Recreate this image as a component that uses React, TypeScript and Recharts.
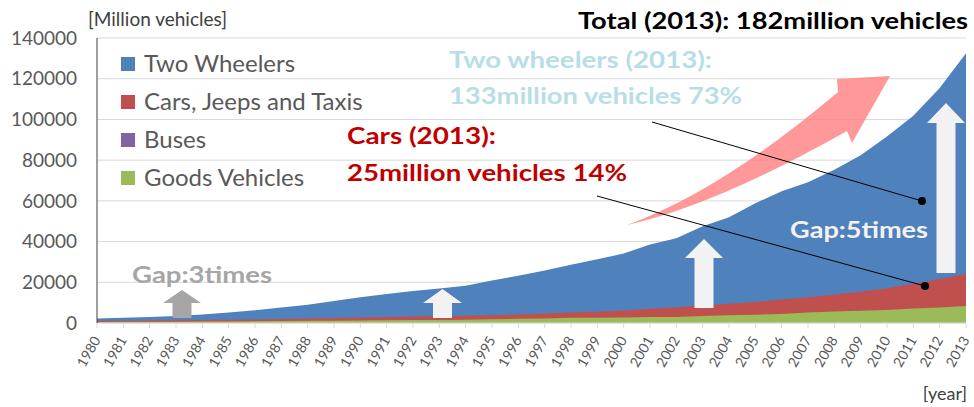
import { AreaChart, Area, XAxis, YAxis, CartesianGrid } from "recharts"

const years = [
  "1980", "1981", "1982", "1983", "1984", "1985", "1986", "1987", "1988", "1989",
  "1990", "1991", "1992", "1993", "1994", "1995", "1996", "1997", "1998", "1999",
  "2000", "2001", "2002", "2003", "2004", "2005", "2006", "2007", "2008", "2009",
  "2010", "2011", "2012", "2013",
]
const twoWheelers = [
  2200, 2618, 3000, 3500, 4200, 5100, 6245, 7600, 9000, 10800,
  12600, 14200, 15661, 16927, 18338, 20831, 23252, 25729, 28642, 31328,
  34118, 38556, 41581, 47519, 51922, 58799, 64743, 69129, 75336, 82402,
  91598, 101865, 115419, 132550,
]
const cars = [
  1050, 1160, 1250, 1350, 1460, 1600, 1780, 1950, 2150, 2400,
  2660, 2954, 3205, 3361, 3569, 3841, 4204, 4672, 5138, 5556,
  6143, 7058, 7613, 8599, 9451, 10320, 11526, 12649, 13950, 15313,
  17109, 19231, 21568, 24056,
]
const buses = [
  150, 162, 170, 180, 195, 210, 227, 245, 265, 285,
  305, 331, 358, 392, 423, 449, 484, 538, 540, 562,
  634, 634, 635, 721, 768, 892, 992, 1350, 1427, 1486,
  1527, 1604, 1677, 1814,
]
const goods = [
  500, 554, 600, 660, 720, 790, 863, 950, 1050, 1150,
  1250, 1356, 1450, 1530, 1650, 1800, 2031, 2260, 2540, 2550,
  2715, 2948, 2974, 3492, 3749, 4031, 4436, 5119, 5601, 6041,
  6432, 7064, 7658, 8307,
]
const yTicks = [0, 20000, 40000, 60000, 80000, 100000, 120000, 140000]

const series = [
  { key: "two", name: "Two Wheelers", color: "#4f81bd" },
  { key: "cars", name: "Cars, Jeeps and Taxis", color: "#c0504d" },
  { key: "buses", name: "Buses", color: "#8064a2" },
  { key: "goods", name: "Goods Vehicles", color: "#9bbb59" },
]

const data = years.map((y, i) => ({
  year: y,
  two: twoWheelers[i],
  cars: cars[i],
  buses: buses[i],
  goods: goods[i],
}))

const FONT = "Lato, 'Noto Sans', sans-serif"

const YearTick = (props: any) => {
  const { x, y, payload } = props
  return (
    <text
      x={x + 4}
      y={y + 10}
      transform={`rotate(-60, ${x + 4}, ${y + 10})`}
      textAnchor="end"
      fontSize={14}
      fill="#595959"
      fontFamily={FONT}
    >
      {payload.value}
    </text>
  )
}

// up arrow polygon
const upArrow = (cx: number, top: number, headBottom: number, bottom: number, hw: number, sw: number) =>
  `M${cx},${top} L${cx + hw},${headBottom} L${cx + sw},${headBottom} L${cx + sw},${bottom} L${cx - sw},${bottom} L${cx - sw},${headBottom} L${cx - hw},${headBottom} Z`

const Overlay = () => (
  <svg width={974} height={407} style={{ position: "absolute", left: 0, top: 0, pointerEvents: "none" }}>
    <g fontFamily={FONT}>
      <text x={88} y={26} fontSize={19} fill="#404040">[Million vehicles]</text>
      <text x={967} y={400} fontSize={18} fill="#404040" textAnchor="end">[year]</text>

      {series.map((s, i) => (
        <g key={s.key}>
          <rect x={121} y={57 + i * 38} width={14} height={14} fill={s.color} />
          <text x={144} y={72 + i * 38} fontSize={24} fill="#595959">{s.name}</text>
        </g>
      ))}

      <path
        d="M627,225 Q721,191 838,92 L837,79 L890,76 L852,143 L847,131 Q716,205 627,225 Z"
        fill="#ff7f7f"
        fillOpacity={0.8}
      />

      <path d={upArrow(182, 290, 303, 318, 19, 9.5)} fill="#a6a6a6" />
      <path d={upArrow(442.5, 289, 303, 318, 19.5, 9.5)} fill="#f2f2f2" />
      <path d={upArrow(704, 239, 258, 308, 19, 9.5)} fill="#f2f2f2" />
      <path d={upArrow(946, 103, 123, 273, 19, 9.5)} fill="#f2f2f2" />

      <line x1={652} y1={122} x2={922} y2={201} stroke="#000" strokeWidth={1} />
      <circle cx={922} cy={201} r={4} fill="#000" />
      <line x1={597} y1={196} x2={925} y2={286} stroke="#000" strokeWidth={1} />
      <circle cx={925} cy={286} r={4} fill="#000" />

      <g fontWeight="bold" fontSize={23}>
        <text x={968} y={29} textAnchor="end" fill="#000" textLength={390} lengthAdjust="spacingAndGlyphs">Total (2013): 182million vehicles</text>
        <text x={449} y={68} fill="#b7dee8" textLength={263} lengthAdjust="spacingAndGlyphs">Two wheelers (2013):</text>
        <text x={449} y={104} fill="#b7dee8" textLength={293} lengthAdjust="spacingAndGlyphs">133million vehicles 73%</text>
        <text x={347} y={144} fill="#c00000" textLength={149} lengthAdjust="spacingAndGlyphs">Cars (2013):</text>
        <text x={347} y={181} fill="#c00000" textLength={280} lengthAdjust="spacingAndGlyphs">25million vehicles 14%</text>
        <text x={132} y={283} fill="#a6a6a6" textLength={140} lengthAdjust="spacingAndGlyphs">Gap:3times</text>
        <text x={790} y={238} fill="#f2f2f2" textLength={138} lengthAdjust="spacingAndGlyphs">Gap:5times</text>
      </g>
    </g>
  </svg>
)

const App = () => {
  return (
    <div style={{ position: "absolute", left: 0, top: 0, width: 974, height: 407, background: "#fff" }}>
      <AreaChart width={974} height={407} data={data} margin={{ top: 38, right: 8, bottom: 34, left: 0 }}>
        <CartesianGrid vertical={false} stroke="#d9d9d9" />
        <XAxis
          dataKey="year"
          interval={0}
          height={50}
          tick={<YearTick />}
          tickSize={5}
          tickLine={{ stroke: "#d9d9d9" }}
          axisLine={{ stroke: "#d9d9d9" }}
        />
        <YAxis
          width={97}
          domain={[0, 140000]}
          ticks={yTicks}
          tickLine={false}
          tickSize={0}
          tickMargin={20}
          axisLine={{ stroke: "#404040" }}
          tick={{ fill: "#595959", fontSize: 19, fontFamily: FONT }}
        />
        {series.map((s) => (
          <Area
            key={s.key}
            type="linear"
            dataKey={s.key}
            name={s.name}
            stroke="none"
            fill={s.color}
            fillOpacity={1}
            dot={false}
            activeDot={false}
            isAnimationActive={false}
          />
        ))}
      </AreaChart>
      <Overlay />
    </div>
  )
}

export default App
